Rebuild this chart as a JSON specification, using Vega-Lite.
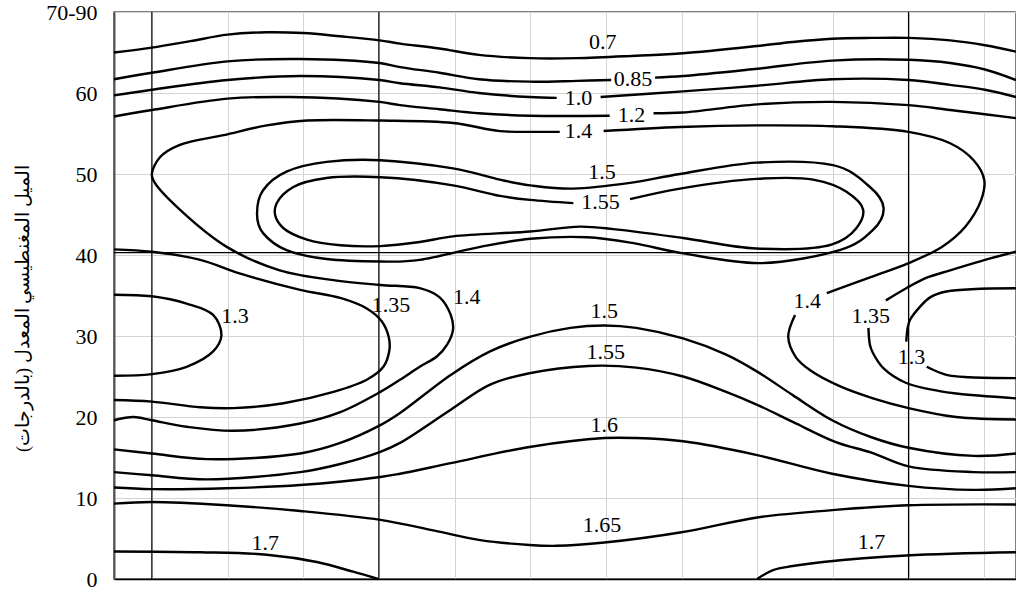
{
  "$schema": "https://vega.github.io/schema/vega-lite/v6.json",
  "width": 902,
  "height": 567,
  "autosize": {"type": "none"},
  "padding": {"left": 114, "top": 12, "right": 0, "bottom": 16},
  "background": "white",
  "config": {
    "view": {"stroke": "#555555", "strokeWidth": 1.5},
    "font": "Liberation Serif"
  },
  "datasets": {
    "contours": [
      {"id":"0.7","o":1,"x":-0.5,"y":65.0},{"id":"0.7","o":2,"x":0,"y":65.6},{"id":"0.7","o":3,"x":0.51,"y":66.4},{"id":"0.7","o":4,"x":1.0,"y":67.2},{"id":"0.7","o":5,"x":1.52,"y":67.5},{"id":"0.7","o":6,"x":2.0,"y":67.4},{"id":"0.7","o":7,"x":2.49,"y":67.0},{"id":"0.7","o":8,"x":3.01,"y":66.5},{"id":"0.7","o":9,"x":3.28,"y":66.1},{"id":"0.7","o":10,"x":3.8,"y":65.5},{"id":"0.7","o":11,"x":4.32,"y":64.7},{"id":"0.7","o":12,"x":4.99,"y":64.3},{"id":"0.7","o":13,"x":5.62,"y":64.3},{"id":"0.7","o":14,"x":6.4,"y":64.6},{"id":"0.7","o":15,"x":7.02,"y":64.9},{"id":"0.7","o":16,"x":8.0,"y":65.8},{"id":"0.7","o":17,"x":8.47,"y":66.3},{"id":"0.7","o":18,"x":8.99,"y":66.7},{"id":"0.7","o":19,"x":9.51,"y":66.8},{"id":"0.7","o":20,"x":10.0,"y":66.8},{"id":"0.7","o":21,"x":10.55,"y":66.5},{"id":"0.7","o":22,"x":11.01,"y":65.9},{"id":"0.7","o":23,"x":11.42,"y":65.1},

      {"id":"0.85a","o":1,"x":-0.5,"y":61.7},{"id":"0.85a","o":2,"x":0,"y":62.5},{"id":"0.85a","o":3,"x":1.0,"y":63.9},{"id":"0.85a","o":4,"x":1.96,"y":64.2},{"id":"0.85a","o":5,"x":3.01,"y":63.7},{"id":"0.85a","o":6,"x":3.28,"y":63.2},{"id":"0.85a","o":7,"x":3.8,"y":62.5},{"id":"0.85a","o":8,"x":4.32,"y":61.7},{"id":"0.85a","o":9,"x":4.99,"y":61.4},{"id":"0.85a","o":10,"x":5.62,"y":61.5},{"id":"0.85a","o":11,"x":6.07,"y":61.6},
      {"id":"0.85b","o":1,"x":6.65,"y":61.9},{"id":"0.85b","o":2,"x":7.02,"y":62.1},{"id":"0.85b","o":3,"x":8.0,"y":63.0},{"id":"0.85b","o":4,"x":8.99,"y":64.0},{"id":"0.85b","o":5,"x":10.0,"y":64.1},{"id":"0.85b","o":6,"x":10.55,"y":63.7},{"id":"0.85b","o":7,"x":11.01,"y":62.9},{"id":"0.85b","o":8,"x":11.42,"y":61.6},

      {"id":"1.0a","o":1,"x":-0.5,"y":59.7},{"id":"1.0a","o":2,"x":0,"y":60.4},{"id":"1.0a","o":3,"x":1.0,"y":61.6},{"id":"1.0a","o":4,"x":1.96,"y":62.1},{"id":"1.0a","o":5,"x":3.01,"y":61.6},{"id":"1.0a","o":6,"x":3.28,"y":61.2},{"id":"1.0a","o":7,"x":3.8,"y":60.7},{"id":"1.0a","o":8,"x":4.32,"y":60.0},{"id":"1.0a","o":9,"x":4.99,"y":59.5},{"id":"1.0a","o":10,"x":5.35,"y":59.4},
      {"id":"1.0b","o":1,"x":5.93,"y":59.5},{"id":"1.0b","o":2,"x":7.02,"y":60.2},{"id":"1.0b","o":3,"x":8.0,"y":60.9},{"id":"1.0b","o":4,"x":8.99,"y":61.7},{"id":"1.0b","o":5,"x":10.0,"y":61.6},{"id":"1.0b","o":6,"x":10.55,"y":61.0},{"id":"1.0b","o":7,"x":11.01,"y":60.4},{"id":"1.0b","o":8,"x":11.42,"y":59.5},

      {"id":"1.2a","o":1,"x":-0.5,"y":57.1},{"id":"1.2a","o":2,"x":0,"y":57.9},{"id":"1.2a","o":3,"x":1.0,"y":59.3},{"id":"1.2a","o":4,"x":1.83,"y":59.5},{"id":"1.2a","o":5,"x":3.01,"y":58.9},{"id":"1.2a","o":6,"x":3.28,"y":58.5},{"id":"1.2a","o":7,"x":3.8,"y":58.0},{"id":"1.2a","o":8,"x":4.32,"y":57.5},{"id":"1.2a","o":9,"x":4.99,"y":57.2},{"id":"1.2a","o":10,"x":6.05,"y":57.2},
      {"id":"1.2b","o":1,"x":6.63,"y":57.5},{"id":"1.2b","o":2,"x":7.02,"y":57.6},{"id":"1.2b","o":3,"x":8.0,"y":58.6},{"id":"1.2b","o":4,"x":8.99,"y":58.9},{"id":"1.2b","o":5,"x":10.0,"y":58.5},{"id":"1.2b","o":6,"x":10.55,"y":57.9},{"id":"1.2b","o":7,"x":11.42,"y":56.9},

      {"id":"1.4a","o":1,"x":-0.5,"y":19.6},{"id":"1.4a","o":2,"x":-0.24,"y":20.0},{"id":"1.4a","o":3,"x":0,"y":19.6},{"id":"1.4a","o":4,"x":0.46,"y":18.8},{"id":"1.4a","o":5,"x":1.08,"y":18.3},{"id":"1.4a","o":6,"x":1.96,"y":19.2},{"id":"1.4a","o":7,"x":2.49,"y":20.6},{"id":"1.4a","o":8,"x":3.02,"y":23.1},{"id":"1.4a","o":9,"x":3.28,"y":24.6},{"id":"1.4a","o":10,"x":3.54,"y":26.2},{"id":"1.4a","o":11,"x":3.77,"y":27.5},{"id":"1.4a","o":12,"x":3.9,"y":28.9},{"id":"1.4a","o":13,"x":3.98,"y":30.8},{"id":"1.4a","o":14,"x":3.95,"y":32.6},{"id":"1.4a","o":15,"x":3.8,"y":34.8},{"id":"1.4a","o":16,"x":3.54,"y":35.9},{"id":"1.4a","o":17,"x":3.02,"y":36.3},{"id":"1.4a","o":18,"x":2.4,"y":36.9},{"id":"1.4a","o":19,"x":1.69,"y":38.1},{"id":"1.4a","o":20,"x":0.99,"y":41.0},{"id":"1.4a","o":21,"x":0.37,"y":45.6},{"id":"1.4a","o":22,"x":0.04,"y":48.9},{"id":"1.4a","o":23,"x":0,"y":50.0},{"id":"1.4a","o":24,"x":0.11,"y":52.1},{"id":"1.4a","o":25,"x":0.37,"y":53.6},{"id":"1.4a","o":26,"x":0.95,"y":54.8},{"id":"1.4a","o":27,"x":1.52,"y":56.0},{"id":"1.4a","o":28,"x":2.05,"y":56.6},{"id":"1.4a","o":29,"x":3.02,"y":56.6},{"id":"1.4a","o":30,"x":3.98,"y":56.3},{"id":"1.4a","o":31,"x":4.6,"y":55.3},{"id":"1.4a","o":32,"x":5.13,"y":55.2},{"id":"1.4a","o":33,"x":5.39,"y":55.2},
      {"id":"1.4b","o":1,"x":5.97,"y":55.3},{"id":"1.4b","o":2,"x":6.98,"y":55.8},{"id":"1.4b","o":3,"x":7.99,"y":56.0},{"id":"1.4b","o":4,"x":9.0,"y":55.9},{"id":"1.4b","o":5,"x":10.0,"y":55.2},{"id":"1.4b","o":6,"x":10.55,"y":53.8},{"id":"1.4b","o":7,"x":10.86,"y":51.7},{"id":"1.4b","o":8,"x":11.0,"y":49.3},{"id":"1.4b","o":9,"x":10.96,"y":46.8},{"id":"1.4b","o":10,"x":10.75,"y":43.5},{"id":"1.4b","o":11,"x":10.44,"y":41.0},{"id":"1.4b","o":12,"x":10.0,"y":39.0},{"id":"1.4b","o":13,"x":9.51,"y":37.3},{"id":"1.4b","o":14,"x":8.92,"y":35.3},
      {"id":"1.4c","o":1,"x":8.5,"y":32.6},{"id":"1.4c","o":2,"x":8.41,"y":29.9},{"id":"1.4c","o":3,"x":8.51,"y":27.4},{"id":"1.4c","o":4,"x":8.71,"y":25.7},{"id":"1.4c","o":5,"x":9.09,"y":23.8},{"id":"1.4c","o":6,"x":9.53,"y":22.3},{"id":"1.4c","o":7,"x":10.0,"y":21.1},{"id":"1.4c","o":8,"x":10.63,"y":20.0},{"id":"1.4c","o":9,"x":11.42,"y":19.7},

      {"id":"1.55t","o":1,"x":6.32,"y":46.9},{"id":"1.55t","o":2,"x":6.98,"y":48.2},{"id":"1.55t","o":3,"x":7.99,"y":49.4},{"id":"1.55t","o":4,"x":8.74,"y":49.3},{"id":"1.55t","o":5,"x":9.18,"y":47.8},{"id":"1.55t","o":6,"x":9.4,"y":45.6},{"id":"1.55t","o":7,"x":9.31,"y":43.3},{"id":"1.55t","o":8,"x":8.99,"y":41.3},{"id":"1.55t","o":9,"x":7.99,"y":40.8},{"id":"1.55t","o":10,"x":7.02,"y":42.1},{"id":"1.55t","o":11,"x":6.1,"y":43.2},{"id":"1.55t","o":12,"x":5.66,"y":43.5},{"id":"1.55t","o":13,"x":5.0,"y":42.9},{"id":"1.55t","o":14,"x":3.98,"y":42.3},{"id":"1.55t","o":15,"x":3.54,"y":41.6},{"id":"1.55t","o":16,"x":3.02,"y":41.1},{"id":"1.55t","o":17,"x":2.49,"y":41.2},{"id":"1.55t","o":18,"x":2.05,"y":41.9},{"id":"1.55t","o":19,"x":1.74,"y":43.3},{"id":"1.55t","o":20,"x":1.63,"y":44.9},{"id":"1.55t","o":21,"x":1.65,"y":46.4},{"id":"1.55t","o":22,"x":1.87,"y":48.4},{"id":"1.55t","o":23,"x":2.31,"y":49.5},{"id":"1.55t","o":24,"x":3.02,"y":49.6},{"id":"1.55t","o":25,"x":3.98,"y":48.6},{"id":"1.55t","o":26,"x":4.6,"y":47.3},{"id":"1.55t","o":27,"x":5.0,"y":46.8},{"id":"1.55t","o":28,"x":5.57,"y":46.4},

      {"id":"1.5h","o":1,"x":-0.5,"y":16.0},{"id":"1.5h","o":2,"x":0,"y":15.5},{"id":"1.5h","o":3,"x":0.73,"y":14.8},{"id":"1.5h","o":4,"x":1.96,"y":15.5},{"id":"1.5h","o":5,"x":2.49,"y":16.8},{"id":"1.5h","o":6,"x":3.02,"y":19.0},{"id":"1.5h","o":7,"x":3.28,"y":20.5},{"id":"1.5h","o":9,"x":3.95,"y":25.2},{"id":"1.5h","o":10,"x":4.47,"y":28.1},{"id":"1.5h","o":11,"x":4.99,"y":29.9},{"id":"1.5h","o":12,"x":5.53,"y":31.0},{"id":"1.5h","o":13,"x":5.98,"y":31.3},{"id":"1.5h","o":14,"x":6.4,"y":31.0},{"id":"1.5h","o":15,"x":7.02,"y":29.7},{"id":"1.5h","o":16,"x":7.59,"y":27.7},{"id":"1.5h","o":17,"x":8.0,"y":25.6},{"id":"1.5h","o":18,"x":8.47,"y":22.7},{"id":"1.5h","o":19,"x":8.99,"y":19.6},{"id":"1.5h","o":20,"x":9.51,"y":17.5},{"id":"1.5h","o":21,"x":10.0,"y":16.2},{"id":"1.5h","o":22,"x":10.86,"y":15.2},{"id":"1.5h","o":23,"x":11.42,"y":15.5},

      {"id":"1.55h","o":1,"x":-0.5,"y":13.2},{"id":"1.55h","o":2,"x":0,"y":12.8},{"id":"1.55h","o":3,"x":0.73,"y":12.3},{"id":"1.55h","o":4,"x":1.96,"y":13.2},{"id":"1.55h","o":5,"x":2.49,"y":14.2},{"id":"1.55h","o":6,"x":3.02,"y":15.7},{"id":"1.55h","o":7,"x":3.28,"y":16.8},{"id":"1.55h","o":9,"x":3.95,"y":20.9},{"id":"1.55h","o":10,"x":4.47,"y":24.0},{"id":"1.55h","o":11,"x":4.99,"y":25.4},{"id":"1.55h","o":12,"x":5.77,"y":26.3},{"id":"1.55h","o":13,"x":6.4,"y":26.1},{"id":"1.55h","o":14,"x":7.02,"y":25.0},{"id":"1.55h","o":15,"x":7.59,"y":23.1},{"id":"1.55h","o":16,"x":8.0,"y":21.5},{"id":"1.55h","o":17,"x":8.47,"y":19.4},{"id":"1.55h","o":18,"x":9.04,"y":16.9},{"id":"1.55h","o":19,"x":9.51,"y":15.6},{"id":"1.55h","o":20,"x":10.0,"y":13.9},{"id":"1.55h","o":21,"x":10.86,"y":13.2},{"id":"1.55h","o":22,"x":11.42,"y":13.2},

      {"id":"1.6","o":1,"x":-0.5,"y":11.3},{"id":"1.6","o":2,"x":0,"y":11.1},{"id":"1.6","o":3,"x":0.99,"y":11.2},{"id":"1.6","o":4,"x":1.96,"y":11.6},{"id":"1.6","o":5,"x":3.02,"y":12.6},{"id":"1.6","o":6,"x":3.28,"y":13.0},{"id":"1.6","o":7,"x":3.95,"y":14.3},{"id":"1.6","o":8,"x":4.99,"y":16.3},{"id":"1.6","o":9,"x":5.98,"y":17.4},{"id":"1.6","o":10,"x":6.4,"y":17.4},{"id":"1.6","o":11,"x":7.02,"y":17.0},{"id":"1.6","o":12,"x":8.0,"y":15.3},{"id":"1.6","o":13,"x":8.99,"y":13.0},{"id":"1.6","o":14,"x":10.0,"y":11.5},{"id":"1.6","o":15,"x":10.86,"y":11.0},{"id":"1.6","o":16,"x":11.42,"y":11.2},

      {"id":"1.65","o":1,"x":-0.5,"y":9.3},{"id":"1.65","o":2,"x":0,"y":9.5},{"id":"1.65","o":3,"x":0.99,"y":9.1},{"id":"1.65","o":4,"x":1.96,"y":8.4},{"id":"1.65","o":5,"x":3.02,"y":7.3},{"id":"1.65","o":6,"x":3.72,"y":6.0},{"id":"1.65","o":7,"x":4.34,"y":4.8},{"id":"1.65","o":8,"x":4.99,"y":4.2},{"id":"1.65","o":9,"x":5.35,"y":4.1},{"id":"1.65","o":10,"x":5.98,"y":4.5},{"id":"1.65","o":11,"x":7.02,"y":5.8},{"id":"1.65","o":12,"x":8.0,"y":7.6},{"id":"1.65","o":13,"x":8.99,"y":8.5},{"id":"1.65","o":14,"x":10.0,"y":9.1},{"id":"1.65","o":15,"x":11.42,"y":9.2},

      {"id":"1.7a","o":1,"x":-0.5,"y":3.4},{"id":"1.7a","o":2,"x":0.64,"y":3.3},{"id":"1.7a","o":3,"x":1.52,"y":3.0},{"id":"1.7a","o":4,"x":2.18,"y":2.1},{"id":"1.7a","o":5,"x":2.66,"y":0.9},{"id":"1.7a","o":6,"x":2.99,"y":0},
      {"id":"1.7b","o":1,"x":8.0,"y":0},{"id":"1.7b","o":2,"x":8.21,"y":1.1},{"id":"1.7b","o":3,"x":8.47,"y":1.6},{"id":"1.7b","o":4,"x":8.87,"y":2.1},{"id":"1.7b","o":5,"x":9.97,"y":2.9},{"id":"1.7b","o":6,"x":11.42,"y":3.3},

      {"id":"1.3l","o":1,"x":-0.5,"y":35.1},{"id":"1.3l","o":2,"x":0,"y":34.9},{"id":"1.3l","o":3,"x":0.46,"y":34.0},{"id":"1.3l","o":4,"x":0.81,"y":32.6},{"id":"1.3l","o":5,"x":0.92,"y":30.1},{"id":"1.3l","o":6,"x":0.81,"y":28.1},{"id":"1.3l","o":7,"x":0.46,"y":26.2},{"id":"1.3l","o":8,"x":0,"y":25.3},{"id":"1.3l","o":9,"x":-0.5,"y":25.1},

      {"id":"1.35l","o":1,"x":-0.5,"y":40.7},{"id":"1.35l","o":2,"x":0,"y":40.4},{"id":"1.35l","o":3,"x":0.64,"y":39.4},{"id":"1.35l","o":4,"x":1.17,"y":37.7},{"id":"1.35l","o":5,"x":1.96,"y":35.7},{"id":"1.35l","o":6,"x":2.49,"y":34.7},{"id":"1.35l","o":7,"x":2.84,"y":33.4},{"id":"1.35l","o":8,"x":3.04,"y":31.8},{"id":"1.35l","o":9,"x":3.13,"y":29.9},{"id":"1.35l","o":10,"x":3.14,"y":28.3},{"id":"1.35l","o":11,"x":3.06,"y":26.2},{"id":"1.35l","o":12,"x":2.84,"y":24.6},{"id":"1.35l","o":13,"x":2.4,"y":23.1},{"id":"1.35l","o":14,"x":1.74,"y":21.7},{"id":"1.35l","o":15,"x":1.08,"y":21.1},{"id":"1.35l","o":16,"x":0.64,"y":21.2},{"id":"1.35l","o":17,"x":0,"y":21.9},{"id":"1.35l","o":18,"x":-0.5,"y":22.1},

      {"id":"1.35ra","o":1,"x":11.42,"y":40.4},{"id":"1.35ra","o":2,"x":11.01,"y":39.4},{"id":"1.35ra","o":3,"x":10.55,"y":38.1},{"id":"1.35ra","o":4,"x":10.24,"y":37.2},{"id":"1.35ra","o":5,"x":9.97,"y":35.9},{"id":"1.35ra","o":6,"x":9.7,"y":34.4},
      {"id":"1.35rb","o":1,"x":9.47,"y":31.0},{"id":"1.35rb","o":2,"x":9.49,"y":28.9},{"id":"1.35rb","o":3,"x":9.53,"y":27.9},{"id":"1.35rb","o":4,"x":9.67,"y":26.0},{"id":"1.35rb","o":5,"x":9.97,"y":24.2},{"id":"1.35rb","o":6,"x":10.41,"y":23.2},{"id":"1.35rb","o":7,"x":10.63,"y":22.9},{"id":"1.35rb","o":8,"x":11.42,"y":22.3},

      {"id":"1.3ra","o":1,"x":11.42,"y":35.9},{"id":"1.3ra","o":2,"x":10.5,"y":35.5},{"id":"1.3ra","o":3,"x":10.29,"y":34.8},{"id":"1.3ra","o":4,"x":10.15,"y":33.6},{"id":"1.3ra","o":5,"x":10.02,"y":32.0},{"id":"1.3ra","o":6,"x":9.99,"y":31.1},{"id":"1.3ra","o":7,"x":9.97,"y":29.3},
      {"id":"1.3rb","o":1,"x":10.24,"y":26.2},{"id":"1.3rb","o":2,"x":10.5,"y":25.2},{"id":"1.3rb","o":3,"x":10.81,"y":24.9},{"id":"1.3rb","o":4,"x":11.42,"y":24.8}
    ],
    "bubble": [
      {"o":1,"x":1.39,"y":45.1},{"o":2,"x":1.47,"y":48.0},{"o":3,"x":1.78,"y":50.3},{"o":4,"x":2.31,"y":51.5},{"o":5,"x":3.02,"y":51.7},{"o":6,"x":3.98,"y":50.7},{"o":7,"x":4.6,"y":49.3},{"o":8,"x":5.0,"y":48.6},{"o":9,"x":5.57,"y":48.2},{"o":10,"x":6.32,"y":48.9},{"o":11,"x":6.98,"y":50.0},{"o":12,"x":7.99,"y":51.4},{"o":13,"x":9.0,"y":51.1},{"o":14,"x":9.49,"y":48.4},{"o":15,"x":9.67,"y":45.8},{"o":16,"x":9.53,"y":43.1},{"o":17,"x":9.09,"y":40.6},{"o":18,"x":8.05,"y":39.0},{"o":19,"x":7.02,"y":40.2},{"o":20,"x":6.4,"y":41.4},{"o":21,"x":5.75,"y":42.2},{"o":22,"x":5.0,"y":42.0},{"o":23,"x":4.34,"y":41.0},{"o":24,"x":3.54,"y":39.4},{"o":25,"x":3.02,"y":39.2},{"o":26,"x":2.31,"y":39.5},{"o":27,"x":1.78,"y":40.6},{"o":28,"x":1.47,"y":42.7}
    ],
    "labels": [
      {"t":"0.7","x":5.96,"y":66.3},{"t":"0.85","x":6.36,"y":61.7},{"t":"1.0","x":5.64,"y":59.4},{"t":"1.2","x":6.34,"y":57.3},{"t":"1.4","x":5.64,"y":55.3},{"t":"1.5","x":5.95,"y":50.2},{"t":"1.55","x":5.93,"y":46.5},
      {"t":"1.3","x":1.1,"y":32.5},{"t":"1.35","x":3.16,"y":33.8},{"t":"1.4","x":4.16,"y":34.8},{"t":"1.5","x":5.98,"y":33.1},{"t":"1.55","x":6.0,"y":28.0},{"t":"1.6","x":5.98,"y":19.0},{"t":"1.65","x":5.95,"y":6.7},{"t":"1.7","x":1.5,"y":4.4},{"t":"1.7","x":9.51,"y":4.6},
      {"t":"1.4","x":8.66,"y":34.3},{"t":"1.35","x":9.5,"y":32.5},{"t":"1.3","x":10.04,"y":27.4}
    ],
    "vrefs": [{"x":0},{"x":3},{"x":10}],
    "hrefs": [{"y":40.3}]
  },
  "layer": [
    {
      "data": {"name": "vrefs"},
      "mark": {"type": "rule", "color": "black", "strokeWidth": 1.2},
      "encoding": {
        "x": {"field": "x", "type": "quantitative",
          "scale": {"domain": [-0.5, 11.42], "nice": false, "zero": false},
          "axis": {"values": [0,1,2,3,4,5,6,7,8,9,10,11], "labels": false, "ticks": false, "title": null,
            "grid": true, "gridColor": "#d4d4d4", "gridWidth": 1,
            "domain": true, "domainColor": "black", "domainWidth": 1.5}}
      }
    },
    {
      "data": {"name": "hrefs"},
      "mark": {"type": "rule", "color": "black", "strokeWidth": 1.2},
      "encoding": {
        "y": {"field": "y", "type": "quantitative",
          "scale": {"domain": [0, 70], "nice": false, "zero": true},
          "axis": {"values": [0,10,20,30,40,50,60,70],
            "labelExpr": "datum.value == 70 ? '70-90' : datum.label",
            "labelFontSize": 22, "labelFont": "Liberation Serif", "labelColor": "black",
            "ticks": false, "tickSize": 0, "labelPadding": 17,
            "grid": true, "gridColor": "#d4d4d4", "gridWidth": 1,
            "domain": true, "domainColor": "#555555", "domainWidth": 2,
            "title": "الميل المغنطيسي المعدل (بالدرجات)",
            "titleFont": "Liberation Serif", "titleFontSize": 18.5, "titleFontWeight": "normal",
            "titleColor": "black", "titlePadding": 13, "titleY": 296}}
      }
    },
    {
      "data": {"name": "contours"},
      "mark": {"type": "line", "color": "black", "strokeWidth": 2.4, "interpolate": "catmull-rom"},
      "encoding": {
        "x": {"field": "x", "type": "quantitative"},
        "y": {"field": "y", "type": "quantitative"},
        "detail": {"field": "id"},
        "order": {"field": "o", "type": "quantitative"}
      }
    },
    {
      "data": {"name": "bubble"},
      "mark": {"type": "line", "color": "black", "strokeWidth": 2.4, "interpolate": "cardinal-closed"},
      "encoding": {
        "x": {"field": "x", "type": "quantitative"},
        "y": {"field": "y", "type": "quantitative"},
        "order": {"field": "o", "type": "quantitative"}
      }
    },
    {
      "data": {"name": "labels"},
      "mark": {"type": "text", "font": "Liberation Serif", "fontSize": 22, "color": "black", "align": "center", "baseline": "middle"},
      "encoding": {
        "x": {"field": "x", "type": "quantitative"},
        "y": {"field": "y", "type": "quantitative"},
        "text": {"field": "t"}
      }
    }
  ]
}
